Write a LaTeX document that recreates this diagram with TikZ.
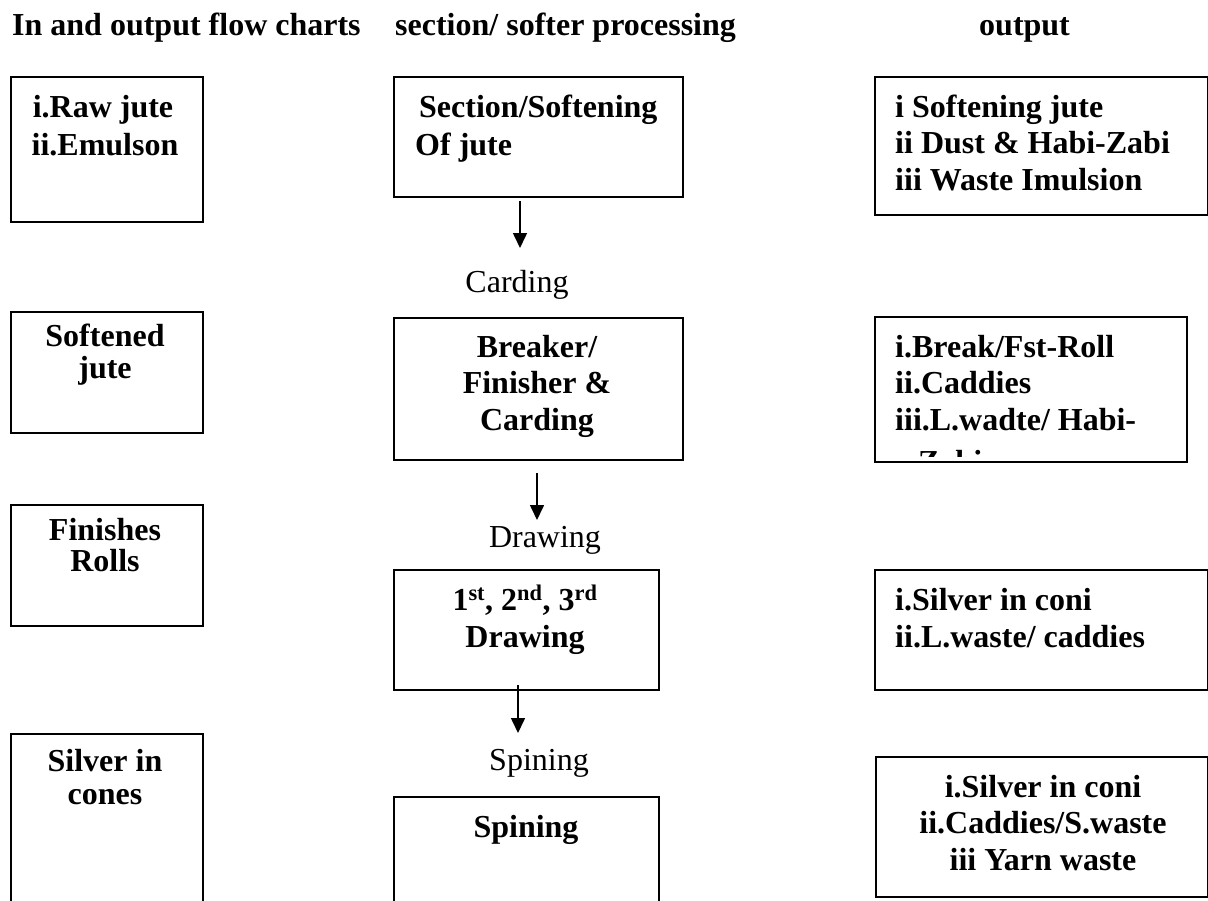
\documentclass[tikz,border=0pt]{standalone}
\usepackage{fontspec}
\setmainfont{Liberation Serif}
\usetikzlibrary{arrows.meta}
\begin{document}
\begin{tikzpicture}[x=1pt,y=-1pt,
  boxnode/.style={draw,line width=1.6pt,inner sep=0pt,anchor=north west},
  bt/.style={inner sep=0pt,font=\fontsize{32}{38}\selectfont\bfseries},
  lt/.style={inner sep=0pt,font=\fontsize{32}{38}\selectfont},
  flow/.style={line width=1.6pt,-{Triangle[length=15pt,width=14pt]}}]
\clip (0,0) rectangle (1208,900);
\fill[white] (0,0) rectangle (1208,900);
% headers
\node[bt,anchor=base west] (h1) at (12,35) {In and output flow charts};
\node[bt,anchor=base west] (h2) at (395,35) {section/ softer processing};
\node[bt,anchor=base west] (h3) at (979,35) {output};
% left column
\node[boxnode,minimum width=192pt,minimum height=145pt] (L1) at (10,76) {};
\node[boxnode,minimum width=192pt,minimum height=121pt] (L2) at (10,311) {};
\node[boxnode,minimum width=192pt,minimum height=121pt] (L3) at (10,504) {};
\node[boxnode,minimum width=192pt,minimum height=200pt] (L4) at (10,733) {};
\node[bt,anchor=base] (L1a) at (103,117) {i.Raw jute};
\node[bt,anchor=base] (L1b) at (105,155) {ii.Emulson};
\node[bt,anchor=base] (L2a) at (105,346) {Softened};
\node[bt,anchor=base] (L2b) at (105,378) {jute};
\node[bt,anchor=base] (L3a) at (105,540) {Finishes};
\node[bt,anchor=base] (L3b) at (105,571) {Rolls};
\node[bt,anchor=base] (L4a) at (105,771) {Silver in};
\node[bt,anchor=base] (L4b) at (105,804) {cones};
% middle column
\node[boxnode,minimum width=289pt,minimum height=120pt] (M1) at (393,76) {};
\node[boxnode,minimum width=289pt,minimum height=142pt] (M2) at (393,317) {};
\node[boxnode,minimum width=265pt,minimum height=120pt] (M3) at (393,569) {};
\node[boxnode,minimum width=265pt,minimum height=200pt] (M4) at (393,796) {};
\node[bt,anchor=base west] (M1a) at (419,117) {Section/Softening};
\node[bt,anchor=base west] (M1b) at (415,155) {Of jute};
\node[bt,anchor=base] (M2a) at (537,357) {Breaker/};
\node[bt,anchor=base] (M2b) at (537,393) {Finisher \&};
\node[bt,anchor=base] (M2c) at (537,430) {Carding};
\node[bt,anchor=base] (M3a) at (525,610) {1\textsuperscript{st}, 2\textsuperscript{nd}, 3\textsuperscript{rd}};
\node[bt,anchor=base] (M3b) at (525,647) {Drawing};
\node[bt,anchor=base] (M4a) at (526,837) {Spining};
% labels between
\node[lt,anchor=base] (c1) at (517,292) {Carding};
\node[lt,anchor=base] (c2) at (545,547) {Drawing};
\node[lt,anchor=base] (c3) at (539,770) {Spining};
% arrows
\coordinate (a1s) at (520,201); \coordinate (a1e) at (520,248);
\coordinate (a2s) at (537,473); \coordinate (a2e) at (537,520);
\coordinate (a3s) at (518,685); \coordinate (a3e) at (518,733);
\draw[flow] (a1s) -- (a1e);
\draw[flow] (a2s) -- (a2e);
\draw[flow] (a3s) -- (a3e);
% right column
\node[boxnode,minimum width=333pt,minimum height=138pt] (R1) at (874,76) {};
\node[boxnode,minimum width=312pt,minimum height=145pt] (R2) at (874,316) {};
\node[boxnode,minimum width=333pt,minimum height=120pt] (R3) at (874,569) {};
\node[boxnode,minimum width=332pt,minimum height=140pt] (R4) at (875,756) {};
\node[bt,anchor=base west] (R1a) at (895,117) {i Softening jute};
\node[bt,anchor=base west] (R1b) at (895,153) {ii Dust \& Habi-Zabi};
\node[bt,anchor=base west] (R1c) at (895,190) {iii Waste Imulsion};
\node[bt,anchor=base west] (R2a) at (895,357) {i.Break/Fst-Roll};
\node[bt,anchor=base west] (R2b) at (895,393) {ii.Caddies};
\node[bt,anchor=base west] (R2c) at (895,430) {iii.L.wadte/ Habi-};
\begin{scope}
\clip (876,440) rectangle (1184,456);
\node[bt,anchor=base west] (R2d) at (918,472) {Zabi};
\end{scope}
\node[bt,anchor=base west] (R3a) at (895,610) {i.Silver in coni};
\node[bt,anchor=base west] (R3b) at (895,647) {ii.L.waste/ caddies};
\node[bt,anchor=base] (R4a) at (1043,797) {i.Silver in coni};
\node[bt,anchor=base] (R4b) at (1043,833) {ii.Caddies/S.waste};
\node[bt,anchor=base] (R4c) at (1043,870) {iii Yarn waste};
\end{tikzpicture}
\end{document}
